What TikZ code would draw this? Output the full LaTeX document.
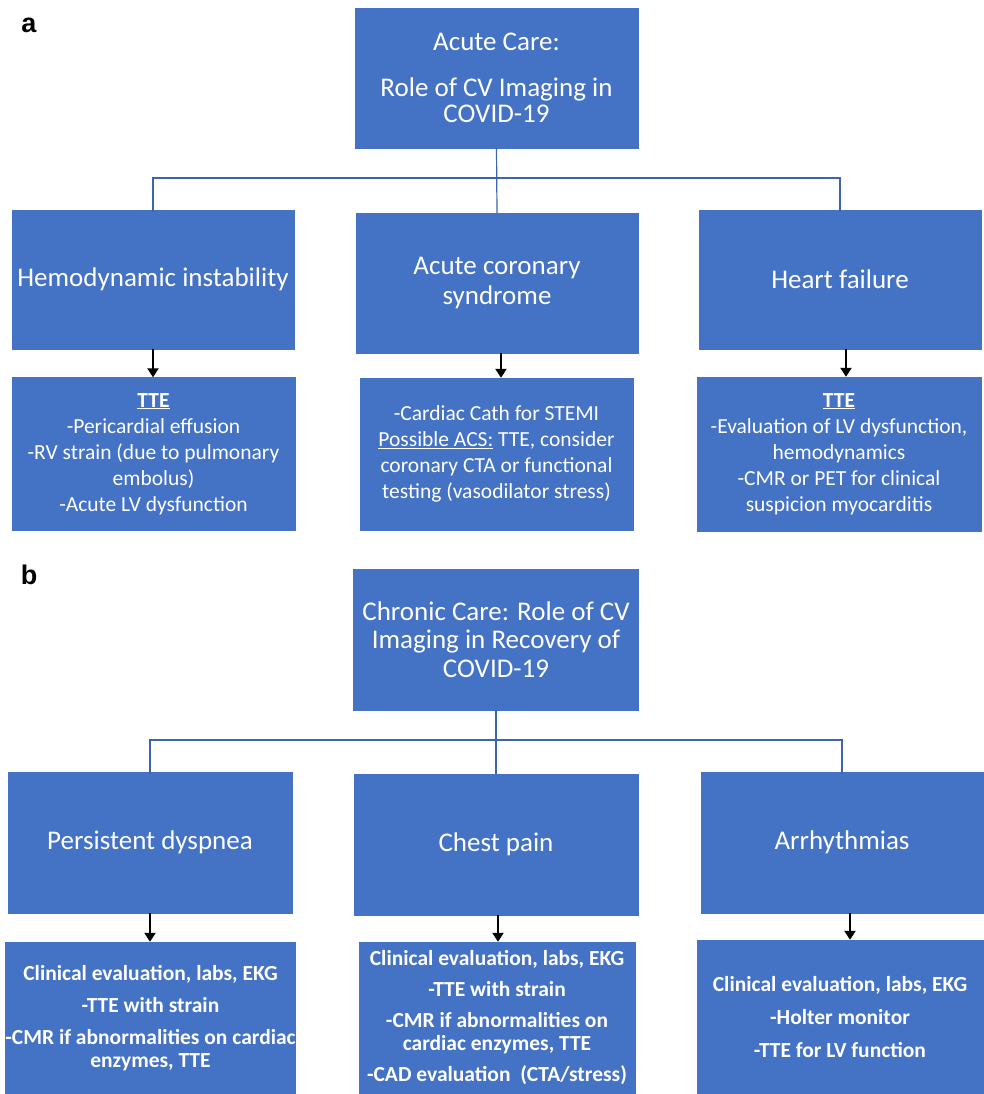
\documentclass[tikz,border=0pt]{standalone}
\usepackage{fontspec}
\setmainfont{Carlito}
\newfontfamily\panelfont{Liberation Sans}
\definecolor{boxblue}{RGB}{68,114,196}
\definecolor{lineblue}{RGB}{60,100,175}
\usetikzlibrary{arrows.meta,positioning,calc}

\begin{document}
\begin{tikzpicture}[
    x=1pt, y=-1pt,
    headbox/.style={
        rectangle,
        draw=boxblue,
        fill=boxblue,
        text=white,
        align=center,
        inner sep=0pt,
        font=\fontsize{27}{26}\selectfont
    },
    topicbox/.style={
        headbox,
        font=\fontsize{27}{30}\selectfont
    },
    notebox/.style={
        headbox,
        font=\fontsize{21.5}{26}\selectfont
    },
    boldbox/.style={
        headbox,
        font=\fontsize{21.5}{23}\selectfont\bfseries
    },
    panel/.style={
        font=\panelfont\fontsize{27}{27}\selectfont\bfseries,
        anchor=base
    },
    link/.style={
        lineblue,
        line width=1.2pt
    },
    arrow/.style={
        -{Triangle[length=9pt,width=11pt]},
        line width=2.6pt,
        black
    }
]
\useasboundingbox (0,0) rectangle (983,1094);

% PANEL A
\node[panel] (labela) at (29,33) {a};

\node[headbox, minimum width=283pt, minimum height=140pt] (acute) at (496.5,78)
{
Acute Care:\\[20pt]
Role of CV Imaging in\\
COVID-19
};

\node[topicbox, minimum width=282pt, minimum height=139pt] (hemo) at (153,279.5)
{Hemodynamic instability};

\node[topicbox, minimum width=282pt, minimum height=140pt] (acs) at (497,283)
{
Acute coronary\\
syndrome
};

\node[topicbox, minimum width=282pt, minimum height=139pt] (hf) at (840,279.5)
{Heart failure};

\node[notebox, minimum width=283pt, minimum height=153pt] (ttea) at (153.5,454)
{
\underline{\textbf{TTE}}\\
-Pericardial effusion\\
-RV strain (due to pulmonary\\
embolus)\\
-Acute LV dysfunction
};

\node[notebox, minimum width=273pt, minimum height=152pt] (cath) at (496.5,454)
{
-Cardiac Cath for STEMI\\
\underline{Possible ACS:} TTE, consider\\
coronary CTA or functional\\
testing (vasodilator stress)
};

\node[notebox, minimum width=284pt, minimum height=154pt] (tteb) at (839,454)
{
\underline{\textbf{TTE}}\\
-Evaluation of LV dysfunction,\\
hemodynamics\\
-CMR or PET for clinical\\
suspicion myocarditis
};

\coordinate (busa) at (496.5,178);
\draw[link] (acute.south) -- (acs.north);
\draw[link] ([yshift=-2pt]hemo.north) |- (busa) -| ([yshift=-2pt]hf.north);

\draw[arrow] (hemo.south) -- (hemo.south |- ttea.north);
\draw[arrow] ([xshift=4pt]acs.south) -- ([xshift=4pt]acs.south |- cath.north);
\draw[arrow] ([xshift=6pt]hf.south) -- ([xshift=6pt]hf.south |- tteb.north);

% PANEL B
\node[panel] (labelb) at (29,584) {b};

\node[topicbox, font=\fontsize{27}{28.5}\selectfont, minimum width=285pt, minimum height=141pt] (chronic) at (496,639.5)
{
Chronic Care: Role of CV\\
Imaging in Recovery of\\
COVID-19
};

\node[topicbox, minimum width=284pt, minimum height=141pt] (dysp) at (150,842.5)
{Persistent dyspnea};

\node[topicbox, minimum width=284pt, minimum height=141pt] (chest) at (496,844.5)
{Chest pain};

\node[topicbox, minimum width=282pt, minimum height=141pt] (arrh) at (842,842.5)
{Arrhythmias};

\node[boldbox, minimum width=285pt, minimum height=152pt] (dyspnote) at (150.5,1018)
{
Clinical evaluation, labs, EKG\\[9pt]
-TTE with strain\\[9pt]
-CMR if abnormalities on cardiac\\
enzymes, TTE
};

\node[boldbox, minimum width=276pt, minimum height=152pt] (chestnote) at (497,1018)
{
Clinical evaluation, labs, EKG\\[8pt]
-TTE with strain\\[8pt]
-CMR if abnormalities on\\
cardiac enzymes, TTE\\[8pt]
-CAD evaluation~~(CTA/stress)
};

\node[boldbox, minimum width=286pt, minimum height=154pt] (arrhnote) at (840,1017)
{
Clinical evaluation, labs, EKG\\[10pt]
-Holter monitor\\[10pt]
-TTE for LV function
};

\coordinate (busb) at (496,740);
\draw[link] (chronic.south) -- (chest.north);
\draw[link] ([yshift=-2pt]dysp.north) |- (busb) -| ([yshift=-2pt]arrh.north);

\draw[arrow] (dysp.south) -- (dysp.south |- dyspnote.north);
\draw[arrow] ([xshift=2pt]chest.south) -- ([xshift=2pt]chest.south |- chestnote.north);
\draw[arrow] ([xshift=8pt]arrh.south) -- ([xshift=8pt]arrh.south |- arrhnote.north);

\end{tikzpicture}
\end{document}
